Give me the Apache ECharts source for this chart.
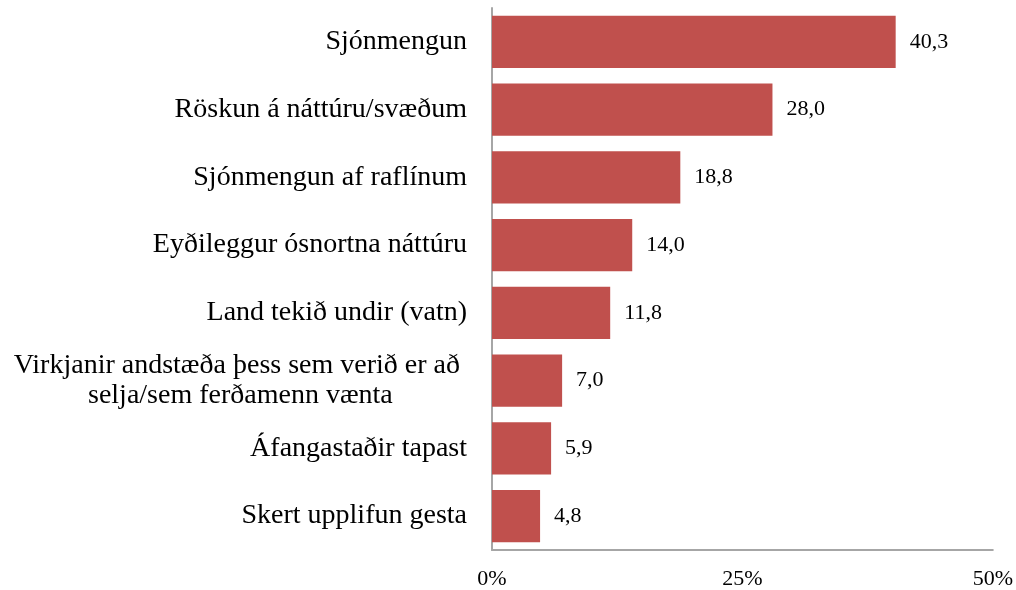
<!DOCTYPE html>
<html>
<head>
<meta charset="utf-8">
<script src="https://cdn.jsdelivr.net/npm/echarts@6/dist/echarts.min.js"></script>
<style>
  html, body { margin: 0; padding: 0; background: #fff; }
  #chart { width: 1016px; height: 590px; }
</style>
</head>
<body>
<div id="chart"></div>
<script>
const categories = [
  'Sjónmengun',
  'Röskun á náttúru/svæðum',
  'Sjónmengun af raflínum',
  'Eyðileggur ósnortna náttúru',
  'Land tekið undir (vatn)',
  'Virkjanir andstæða þess sem verið er að \nselja/sem ferðamenn vænta',
  'Áfangastaðir tapast',
  'Skert upplifun gesta'
]
const values = [40.3, 28.0, 18.8, 14.0, 11.8, 7.0, 5.9, 4.8]
const tickValues = [0, 25, 50]

const fontFamily = '"Liberation Serif", "DejaVu Serif", serif'
const axisColor = '#a6a6a6'

const myChart = echarts.init(document.getElementById('chart'))

myChart.setOption({
  animation: false,
  grid: {
    left: 492,
    right: 23,
    top: 8,
    bottom: 39,
  },
  xAxis: {
    type: 'value',
    min: tickValues[0],
    max: tickValues[tickValues.length - 1],
    interval: tickValues[1] - tickValues[0],
    axisLine: { show: true, lineStyle: { color: axisColor, width: 2 } },
    axisTick: { show: false },
    splitLine: { show: false },
    axisLabel: {
      margin: 18,
      color: '#000',
      fontFamily,
      fontSize: 22,
      formatter: (v) => v + '%',
    },
  },
  yAxis: {
    type: 'category',
    inverse: true,
    data: categories,
    axisLine: { show: true, lineStyle: { color: axisColor, width: 2 } },
    axisTick: { show: false },
    axisLabel: {
      margin: 25,
      color: '#000',
      fontFamily,
      fontSize: 28,
      lineHeight: 30,
      formatter: (v) => '{c|' + v + '}',
      rich: {
        c: {
          align: 'center',
          color: '#000',
          fontFamily,
          fontSize: 28,
          lineHeight: 30,
        },
      },
    },
  },
  series: [
    {
      type: 'bar',
      data: values,
      barCategoryGap: '23%',
      itemStyle: { color: '#c0504d' },
      label: {
        show: true,
        position: 'right',
        distance: 14,
        color: '#000',
        fontFamily,
        fontSize: 22,
        formatter: (p) => p.value.toFixed(1).replace('.', ','),
      },
    },
  ],
})
</script>
</body>
</html>
